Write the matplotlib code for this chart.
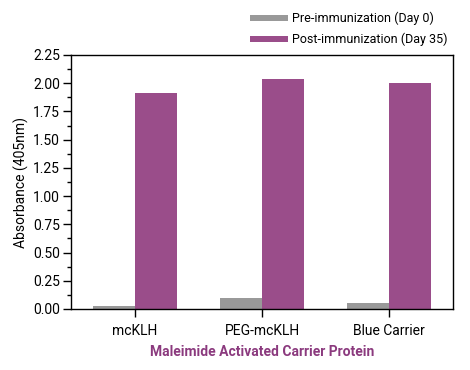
import matplotlib
matplotlib.use("Agg")
import matplotlib.pyplot as plt
import numpy as np
from matplotlib import font_manager
from matplotlib.ticker import MultipleLocator, FormatStrFormatter

categories = ["mcKLH", "PEG-mcKLH", "Blue Carrier"]
pre_values = [0.03, 0.10, 0.05]
post_values = [1.91, 2.04, 2.00]
series_labels = ["Pre-immunization (Day 0)", "Post-immunization (Day 35)"]

names = {f.name for f in font_manager.fontManager.ttflist}
family = "Liberation Sans Narrow" if "Liberation Sans Narrow" in names else "Roboto"
plt.rcParams["font.family"] = [family, "DejaVu Sans"]
fs = 10

fig = plt.figure(figsize=(4.7, 3.7), dpi=100)
ax = fig.add_axes([71 / 470, 61 / 370, 382 / 470, 254 / 370])

x = np.arange(len(categories))
w = 0.33
ax.bar(x - w / 2, pre_values, w, color="#999999", label=series_labels[0])
ax.bar(x + w / 2, post_values, w, color="#9a4d8a", label=series_labels[1])

ax.set_xlim(-0.5, 2.5)
ax.set_ylim(0, 2.25)
ax.set_xticks(x)
ax.set_xticklabels(categories, fontsize=fs)
ax.yaxis.set_major_locator(MultipleLocator(0.25))
ax.yaxis.set_minor_locator(MultipleLocator(0.125))
ax.yaxis.set_major_formatter(FormatStrFormatter("%.2f"))
ax.tick_params(axis="y", labelsize=fs, length=6, width=1, pad=2)
ax.tick_params(axis="y", which="minor", length=3, width=1)
ax.tick_params(axis="x", length=6, width=1, pad=5)
for s in ax.spines.values():
    s.set_linewidth(1)
ax.set_ylabel("Absorbance (405nm)", fontsize=fs, labelpad=3)
ax.set_xlabel("Maleimide Activated Carrier Protein", fontsize=fs,
              fontweight="bold", color="#8b3a7e", labelpad=5)

fig.legend(loc="upper right", bbox_to_anchor=(458 / 470, 1 - 2 / 370), frameon=False,
           fontsize=9, handlelength=3.0, handleheight=0.35,
           labelspacing=0.6, handletextpad=0.4, borderpad=0.3)

fig.savefig("out.png", dpi=100)
